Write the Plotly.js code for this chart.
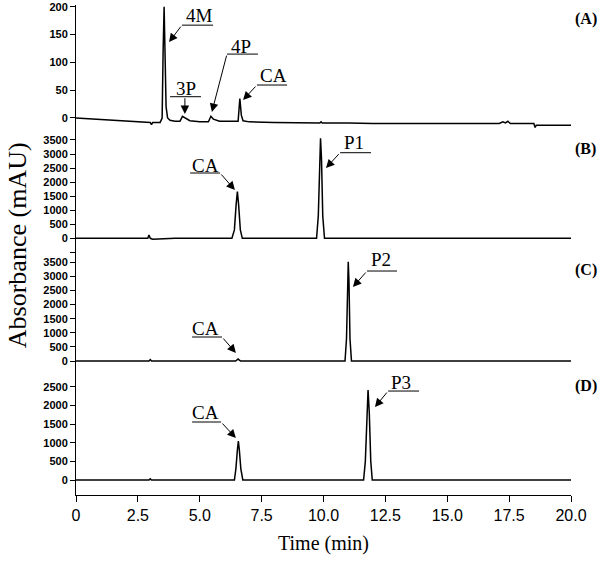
<!DOCTYPE html>
<html>
<head>
<meta charset="utf-8">
<script src="https://cdn.plot.ly/plotly-3.0.1.min.js"></script>
<style>html,body{margin:0;padding:0;background:#fff;}#chart{width:600px;height:562px;}</style>
</head>
<body>
<div id="chart"></div>
<script>
// ---- Data ----
const timeA = [0, 1.0, 2.0, 2.85, 3.0, 3.05, 3.1, 3.4, 3.48, 3.52, 3.56, 3.6, 3.64, 3.7, 3.8, 4.0, 4.2, 4.3, 4.4, 4.6, 5.0, 5.35, 5.45, 5.55, 5.8, 6.4, 6.55, 6.62, 6.68, 6.75, 7.0, 8.0, 9.0, 9.85, 9.9, 9.95, 11.0, 12.0, 14.0, 16.0, 17.1, 17.25, 17.35, 17.45, 17.55, 18.5, 18.55, 18.6, 19.0, 20.0];
const absA  = [0, -2.5, -5, -8, -8, -12, -8, -8, 0, 120, 200, 110, 20, 0, -4, -6, -6, 3, 0, -5, -7, -7, 3, -2, -6, -7, -6, 35, 5, -5, -7, -8, -9, -9, -7, -9, -9, -10, -10, -10, -10, -7, -9, -6, -10, -10, -17, -13, -13, -13];

const timeB = [0, 2.9, 2.95, 3.0, 3.1, 3.5, 4.0, 6.3, 6.4, 6.47, 6.52, 6.57, 6.64, 6.72, 9.72, 9.79, 9.84, 9.88, 9.92, 9.97, 10.04, 20];
const absB  = [0, 0, 120, 0, -30, -20, 0, 0, 300, 1200, 1660, 1200, 300, 0, 0, 800, 2800, 3560, 2800, 800, 0, 0];

const timeC = [0, 2.95, 3.0, 3.05, 6.45, 6.55, 6.65, 10.87, 10.93, 10.97, 11.0, 11.03, 11.07, 11.13, 20];
const absC  = [0, 0, 50, 0, 0, 70, 0, 0, 800, 2800, 3520, 2800, 800, 0, 0];

const timeD = [0, 2.95, 3.0, 3.05, 6.4, 6.46, 6.52, 6.56, 6.6, 6.66, 6.74, 11.62, 11.69, 11.75, 11.8, 11.85, 11.91, 11.97, 18.5, 18.55, 18.6, 20];
const absD  = [0, 0, 30, 0, 0, 300, 800, 1045, 800, 300, 0, 0, 500, 1800, 2410, 1800, 500, 0, 0, 20, 0, 0];

const xTickVals = [0, 2.5, 5, 7.5, 10, 12.5, 15, 17.5, 20];
const xTickText = ['0', '2.5', '5.0', '7.5', '10.0', '12.5', '15.0', '17.5', '20.0'];
const yTicksA = [0, 50, 100, 150, 200];
const yTicksB = [-500, 0, 500, 1000, 1500, 2000, 2500, 3000, 3500];
const yTextB  = ['', '0', '500', '1000', '1500', '2000', '2500', '3000', '3500'];
const yTicksC = [0, 500, 1000, 1500, 2000, 2500, 3000, 3500];
const yTicksD = [0, 500, 1000, 1500, 2000, 2500];

const panelLabels = ['(A)', '(B)', '(C)', '(D)'];

// peak labels: [panel axis, label, textX, textY, lineX0, lineX1, lineY, tailX, tailY, headX, headY]
const peakLabels = [
  ['y',  '4M', 4.97, 184.8, 4.28, 5.54, 166.8, 4.28, 166.8, 3.76, 136.3],
  ['y',  '3P', 4.44, 53.8, 3.80, 5.05, 38.2, 4.40, 38.2, 4.40, 7.2],
  ['y',  '4P', 6.67, 129, 6.10, 7.35, 114.8, 6.10, 114.8, 5.49, 10.8],
  ['y',  'CA', 7.96, 77, 7.31, 8.53, 59.2, 7.31, 59.2, 6.75, 32.3],
  ['y2', 'CA', 5.25, 2609, 4.61, 5.82, 2325, 5.82, 2325, 6.42, 1719],
  ['y2', 'P1', 11.23, 3428, 10.67, 11.92, 3047, 10.67, 3047, 10.10, 2501],
  ['y3', 'CA', 5.25, 1170, 4.69, 5.90, 851, 5.90, 851, 6.46, 284],
  ['y3', 'P2', 12.32, 3582, 11.76, 12.97, 3191, 11.76, 3191, 11.19, 2624],
  ['y4', 'CA', 5.25, 1822, 4.69, 5.86, 1554, 5.86, 1554, 6.46, 1125],
  ['y4', 'P3', 13.13, 2625, 12.61, 13.86, 2384, 12.61, 2384, 12.08, 1955]
];

const lineStyle = {color: '#000', width: 1.5};
const traces = [
  {x: timeA, y: absA, xaxis: 'x', yaxis: 'y',  mode: 'lines', line: lineStyle, hoverinfo: 'skip'},
  {x: timeB, y: absB, xaxis: 'x', yaxis: 'y2', mode: 'lines', line: lineStyle, hoverinfo: 'skip'},
  {x: timeC, y: absC, xaxis: 'x', yaxis: 'y3', mode: 'lines', line: lineStyle, hoverinfo: 'skip'},
  {x: timeD, y: absD, xaxis: 'x', yaxis: 'y4', mode: 'lines', line: lineStyle, hoverinfo: 'skip'}
];

const tickFont = {family: 'Liberation Sans, Arial, sans-serif', size: 11, color: '#000', weight: 'bold'};
function yAxis(domain, range, vals, text) {
  return {
    domain: domain, range: range, anchor: 'x',
    showline: true, linecolor: '#000', linewidth: 1,
    ticks: 'outside', ticklen: 5, tickwidth: 1, tickcolor: '#000',
    tickvals: vals, ticktext: text || vals.map(String),
    tickfont: tickFont, showgrid: false, zeroline: false, fixedrange: true
  };
}

const serif = 'Liberation Serif, Times New Roman, serif';
const annotations = [];
const shapes = [];
peakLabels.forEach(p => {
  const [ax, label, tx, ty, lx0, lx1, ly, tailX, tailY, headX, headY] = p;
  annotations.push({xref: 'x', yref: ax, x: tx, y: ty, text: label, showarrow: false,
    font: {family: serif, size: 19, color: '#000'}, xanchor: 'center', yanchor: 'middle'});
  annotations.push({xref: 'x', yref: ax, x: headX, y: headY, axref: 'x', ayref: ax, ax: tailX, ay: tailY,
    text: '', showarrow: true, arrowhead: 2, arrowsize: 1.7, arrowwidth: 1, arrowcolor: '#000', standoff: 0, startstandoff: 0});
  shapes.push({type: 'line', xref: 'x', yref: ax, x0: lx0, x1: lx1, y0: ly, y1: ly, line: {color: '#000', width: 1}});
});
const panelY = [0.971, 0.706, 0.459, 0.222];
panelLabels.forEach((t, i) => {
  annotations.push({xref: 'paper', yref: 'paper', x: 1.03, y: panelY[i], text: t, showarrow: false,
    font: {family: serif, size: 16, color: '#000', weight: 'bold'}, xanchor: 'center', yanchor: 'middle'});
});
annotations.push({xref: 'paper', yref: 'paper', x: -0.119, y: 0.51, text: 'Absorbance (mAU)', textangle: -90,
  showarrow: false, font: {family: serif, size: 26, color: '#000'}, xanchor: 'center', yanchor: 'middle'});

const layout = {
  width: 600, height: 562,
  margin: {l: 76, r: 29, t: 5, b: 67},
  paper_bgcolor: '#fff', plot_bgcolor: '#fff',
  showlegend: false,
  xaxis: {
    domain: [0, 1], range: [0, 20], anchor: 'y4',
    showline: true, linecolor: '#000', linewidth: 1,
    ticks: 'outside', ticklen: 6, tickwidth: 1, tickcolor: '#000',
    tickvals: xTickVals, ticktext: xTickText,
    tickfont: {family: 'Liberation Sans, Arial, sans-serif', size: 16, color: '#000'},
    showgrid: false, zeroline: false, fixedrange: true,
    title: {text: 'Time (min)', font: {family: serif, size: 20, color: '#000'}, standoff: 12}
  },
  yaxis:  yAxis([0.749, 1], [-18, 203], yTicksA),
  yaxis2: yAxis([0.4918, 0.749], [-559, 3927], yTicksB, yTextB),
  yaxis3: yAxis([0.251, 0.4918], [-390, 3794], yTicksC),
  yaxis4: yAxis([0, 0.251], [-402, 2894], yTicksD),
  annotations: annotations,
  shapes: shapes
};

Plotly.newPlot('chart', traces, layout, {staticPlot: true, displayModeBar: false});
</script>
</body>
</html>
